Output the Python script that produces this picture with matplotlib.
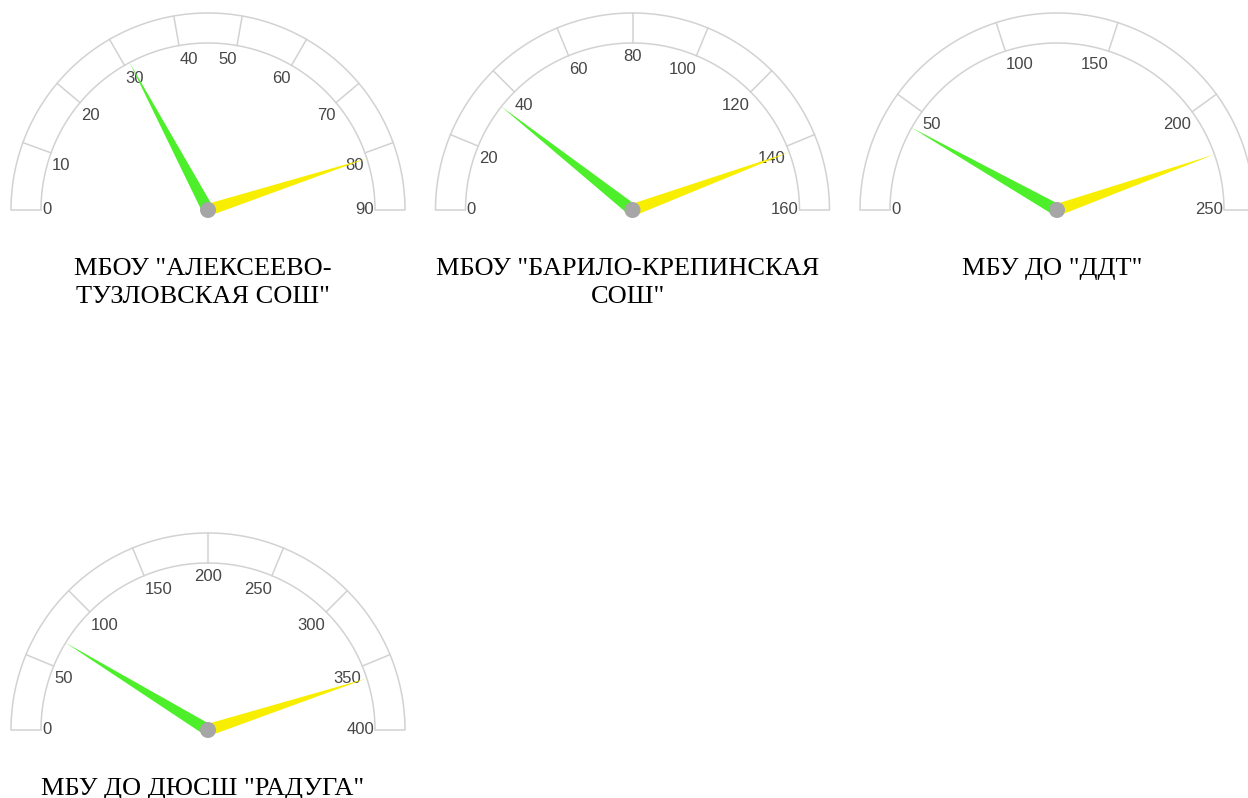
import numpy as np
import matplotlib
matplotlib.use('Agg')
import matplotlib.pyplot as plt
from matplotlib.patches import Polygon, Circle

titles = ['МБОУ "АЛЕКСЕЕВО-\nТУЗЛОВСКАЯ СОШ"',
          'МБОУ "БАРИЛО-КРЕПИНСКАЯ\nСОШ"',
          'МБУ ДО "ДДТ"',
          'МБУ ДО ДЮСШ "РАДУГА"']
max_values = [90, 160, 250, 400]
tick_steps = [10, 20, 50, 50]
green_values = [31, 34, 41, 70]
yellow_values = [81, 142, 223, 360]

R_OUT = 197
R_IN = 167
R_LABEL = 166
NEEDLE_LEN = 167
NEEDLE_W = 6

band_color = '#d2d2d2'
label_color = '#464646'
green = '#4cef2a'
yellow = '#f8ee00'
hub_color = '#a6a6a6'

fig = plt.figure(figsize=(12.48, 7.98), dpi=100)
ax = fig.add_axes([0, 0, 1, 1])
ax.set_xlim(0, 1248)
ax.set_ylim(798, 0)
ax.axis('off')


def pt(cx, cy, r, ang):
    return cx + r * np.cos(ang), cy - r * np.sin(ang)


def needle(cx, cy, value, vmax, color):
    ang = np.pi * (1 - value / vmax)
    perp = ang + np.pi / 2
    pts = [pt(cx, cy, -7, ang),
           pt(cx, cy, NEEDLE_W, perp),
           pt(cx, cy, NEEDLE_LEN, ang),
           pt(cx, cy, -NEEDLE_W, perp)]
    ax.add_patch(Polygon(pts, closed=True, facecolor=color, edgecolor='none', zorder=3))


for i in range(len(titles)):
    cx = 208 + 424.5 * (i % 3)
    cy = 210 + 520 * (i // 3)
    vmax = max_values[i]

    # band
    th = np.linspace(np.pi, 0, 200)
    outer = np.column_stack([cx + R_OUT * np.cos(th), cy - R_OUT * np.sin(th)])
    inner = np.column_stack([cx + R_IN * np.cos(th[::-1]), cy - R_IN * np.sin(th[::-1])])
    ax.add_patch(Polygon(np.vstack([outer, inner]), closed=True, facecolor='white',
                         edgecolor=band_color, lw=1.1, zorder=1))

    ticks = np.arange(0, vmax + 1, tick_steps[i])
    for t in ticks:
        ang = np.pi * (1 - t / vmax)
        if 0 < t < vmax:
            x0, y0 = pt(cx, cy, R_IN, ang)
            x1, y1 = pt(cx, cy, R_OUT, ang)
            ax.plot([x0, x1], [y0, y1], color=band_color, lw=1.1, zorder=1)
        c, s = np.cos(ang), np.sin(ang)
        ha = 'left' if c < -1e-6 else ('right' if c > 1e-6 else 'center')
        va = 'top' if s > 1e-6 else 'center'
        lx, ly = pt(cx, cy, R_LABEL, ang)
        if va == 'top':
            ly += 5
        ax.text(lx, ly, str(t), ha=ha, va=va, color=label_color, fontsize=12,
                family='Liberation Sans', zorder=2)

    needle(cx, cy, green_values[i], vmax, green)
    needle(cx, cy, yellow_values[i], vmax, yellow)
    ax.add_patch(Circle((cx, cy), 8, facecolor=hub_color, edgecolor='none', zorder=4))

    ax.text(cx - 5, cy + 48, titles[i], ha='center', va='top', fontsize=19,
            family='Liberation Serif', color='black', linespacing=1.38)

fig.savefig('out.png', dpi=100)
